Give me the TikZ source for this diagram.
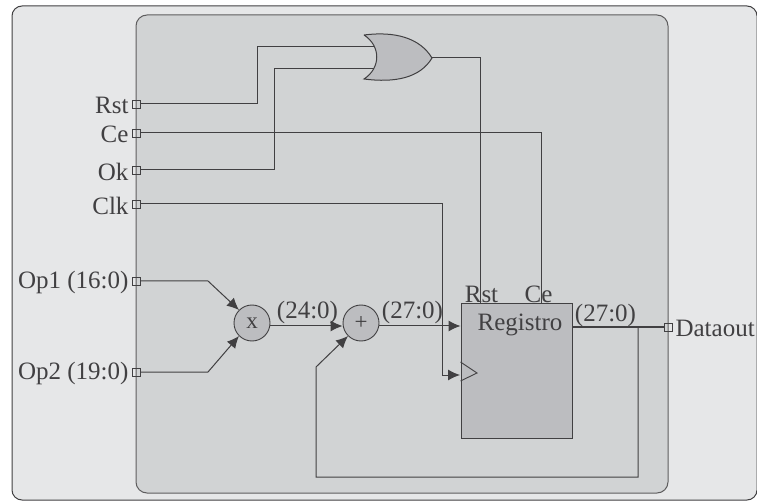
\documentclass[tikz,border=0pt]{standalone}
\usepackage{fontspec}
\setmainfont{Liberation Serif}
\usepackage{xcolor}
\usetikzlibrary{arrows.meta,positioning,calc}
\definecolor{outerfill}{HTML}{E6E7E8}
\definecolor{innerfill}{HTML}{D1D3D4}
\definecolor{gatefill}{HTML}{BCBDC0}
\definecolor{wirecol}{HTML}{414042}

\begin{document}
\begin{tikzpicture}[x=1pt,y=-1pt,
  node distance=3pt,
  port/.style={draw=wirecol,line width=0.7pt,minimum size=8pt,inner sep=0pt},
  lbl/.style={font=\fontsize{25}{25}\selectfont,color=wirecol,inner sep=0pt},
  portlbl/.style={lbl,yshift=-1.5pt},
  opnode/.style={circle,draw=wirecol,fill=gatefill,line width=0.9pt,minimum size=36pt,inner sep=0pt,font=\fontsize{23}{23}\selectfont,text=wirecol},
  wire/.style={color=wirecol,line width=1pt},
  arr/.style={wire,-{Latex[length=12pt,width=11pt]}}]
  \useasboundingbox (0,0) rectangle (757,502);
  \draw[wirecol,line width=1pt,fill=outerfill,rounded corners=10pt] (12,6) rectangle (757,500);
  \draw[wirecol!85,line width=1pt,fill=innerfill,rounded corners=11pt] (136,15) rectangle (668,493);
  % ports
  \node[port] (prst) at (136,104) {};
  \node[port] (pce) at (136,133) {};
  \node[port] (pok) at (136,170) {};
  \node[port] (pclk) at (136,204) {};
  \node[port] (pop1) at (136,281) {};
  \node[port] (pop2) at (136,372) {};
  \node[port] (pout) at (668,327) {};
  \node[portlbl,left=of prst] (lrst) {Rst};
  \node[portlbl,left=of pce] (lce) {Ce};
  \node[portlbl,left=of pok] (lok) {Ok};
  \node[portlbl,left=of pclk] (lclk) {Clk};
  \node[portlbl,left=of pop1] (lop1) {Op1 (16:0)};
  \node[portlbl,left=of pop2] (lop2) {Op2 (19:0)};
  \node[portlbl,right=3pt of pout] (lout) {Dataout};
  % or gate
  \draw[wirecol,line width=1pt,fill=gatefill] (364,35) .. controls (395,31) and (420,38) .. (432,58)
    .. controls (420,78) and (395,83) .. (364,79) .. controls (381,68) and (381,46) .. (364,35);
  \coordinate (orin1) at (374,47);
  \coordinate (orin2) at (374,69);
  \coordinate (orout) at (432,58);
  % blocks
  \node[opnode] (mul) at (252,323) {x};
  \node[opnode] (add) at (361,323) {+};
  \node[draw=wirecol,line width=1pt,fill=gatefill,minimum width=111pt,minimum height=134pt,inner sep=0pt] (reg) at (516.5,371) {};
  \draw[wirecol,line width=0.9pt] (reg.west|-0,362) -- (477,373) -- (reg.west|-0,381);
  \node[lbl,below=10pt of reg.north,xshift=3.5pt] (lreg) {Registro};
  \node[lbl,anchor=base] (lregrst) at (481.5,302) {Rst};
  \node[lbl,anchor=base] (lregce) at (538.5,302) {Ce};
  % wires
  \draw[wire] (prst) -- (257,104) |- (orin1);
  \draw[wire] (pok) -- (274,170) |- (orin2);
  \draw[wire] (pce) -- (541,133) -- (541,304);
  \draw[wire] (orout) -- (480,58) -- (480,304);
  \draw[arr] (pclk) -- (442,204) |- (460,375);
  \draw[arr] (pop1) -- (208,281) -- (mul.north west);
  \draw[arr] (pop2) -- (208,372) -- (mul.south west);
  \draw[arr] (mul.east|-0,326) -- (add.west|-0,326);
  \draw[arr] (add.east|-0,326) -- (reg.west|-0,326);
  \draw[wire] (reg.east|-0,327) -- (pout);
  \draw[arr] (638,327) |- (316,477) -- (316,367) -- (add.south west);
  \node[lbl,anchor=base] (l24) at (307.5,319) {(24:0)};
  \node[lbl,anchor=base] (l27a) at (412.5,319) {(27:0)};
  \node[lbl,anchor=base] (l27b) at (605.5,321) {(27:0)};
\end{tikzpicture}
\end{document}
